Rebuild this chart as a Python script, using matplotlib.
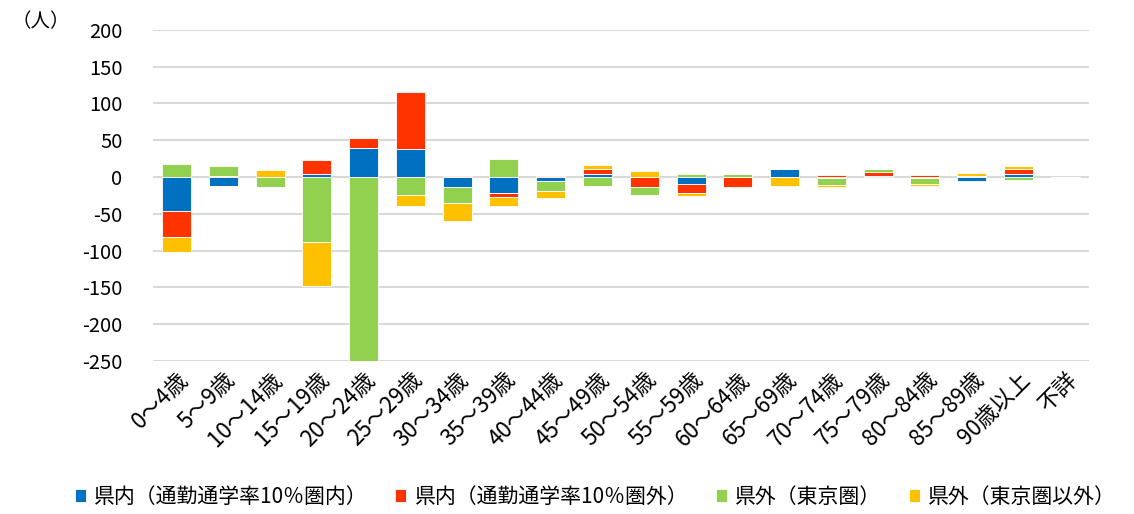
import matplotlib
matplotlib.use("Agg")
import matplotlib.pyplot as plt
import numpy as np

plt.rcParams['font.family'] = ['Noto Sans CJK JP', 'DejaVu Sans']

categories = ["0～4歳", "5～9歳", "10～14歳", "15～19歳", "20～24歳", "25～29歳",
              "30～34歳", "35～39歳", "40～44歳", "45～49歳", "50～54歳", "55～59歳",
              "60～64歳", "65～69歳", "70～74歳", "75～79歳", "80～84歳", "85～89歳",
              "90歳以上", "不詳"]

series_names = ["県内（通勤通学率10％圏内）", "県内（通勤通学率10％圏外）",
                "県外（東京圏）", "県外（東京圏以外）"]

in_pref_inner = [-46, -12, 0, 4.5, 39.5, 38, -13, -22, -6, 4.5, 0, -9.5, 0, 10.5, -1, 1, -1, -6, 4, 0]
in_pref_outer = [-35, 2, 0, 18, 13.5, 78, 2, -4.5, 2, 6, -13.5, -12, -14, 0, 3, 6, 2.5, 2, 7, 0]
out_tokyo     = [17, 13, -14, -89, -255, -24, -22.5, 24, -12.5, -12, -10.5, 4, 4, 0, -10, 3.5, -8.5, 0, -3.5, 0]
out_other     = [-21, -1.5, 9, -58.5, 0, -15, -24, -13, -10, 6, 7.5, -4, 0, -12, -3, 0, -3, 3, 3.5, 0]

colors = ["#0070C0", "#FF3300", "#92D050", "#FFC000"]
yticks = [200, 150, 100, 50, 0, -50, -100, -150, -200, -250]

fig = plt.figure(figsize=(11.34, 5.14), dpi=100)
ax = fig.add_axes([0.135, 0.2977, 0.825, 0.6443])

x = np.arange(len(categories))
pos_base = np.zeros(len(categories))
neg_base = np.zeros(len(categories))
for vals, col, name in zip([in_pref_inner, in_pref_outer, out_tokyo, out_other], colors, series_names):
    v = np.array(vals, dtype=float)
    bottoms = np.where(v >= 0, pos_base, neg_base)
    ax.bar(x, v, bottom=bottoms, width=0.62, color=col, label=name,
           edgecolor="white", linewidth=0.6, zorder=3)
    pos_base = pos_base + np.where(v > 0, v, 0)
    neg_base = neg_base + np.where(v < 0, v, 0)

ax.set_ylim(-250, 200)
ax.set_xlim(-0.5, len(categories) - 0.5)
ax.set_yticks(yticks)
ax.set_yticklabels([str(t) for t in yticks], fontsize=14.5)
ax.yaxis.grid(True, color="#D9D9D9", linewidth=1.5, zorder=0)
ax.set_axisbelow(True)
for s in ax.spines.values():
    s.set_visible(False)
ax.tick_params(axis='both', length=0)
ax.tick_params(axis='y', pad=22)
ax.set_xticks(x)
ax.set_xticklabels(categories, rotation=45, ha='right', va='top',
                   rotation_mode='anchor', fontsize=16)
ax.tick_params(axis='x', pad=5)

fig.text(0.010, 0.958, "（人）", fontsize=14, ha='left', va='center')

leg = fig.legend(loc='lower center', bbox_to_anchor=(0.525, -0.025), ncol=4,
                 frameon=False, fontsize=15, handlelength=0.55, handleheight=0.55,
                 handletextpad=0.4, columnspacing=1.3)

fig.savefig("out.png", dpi=100)
